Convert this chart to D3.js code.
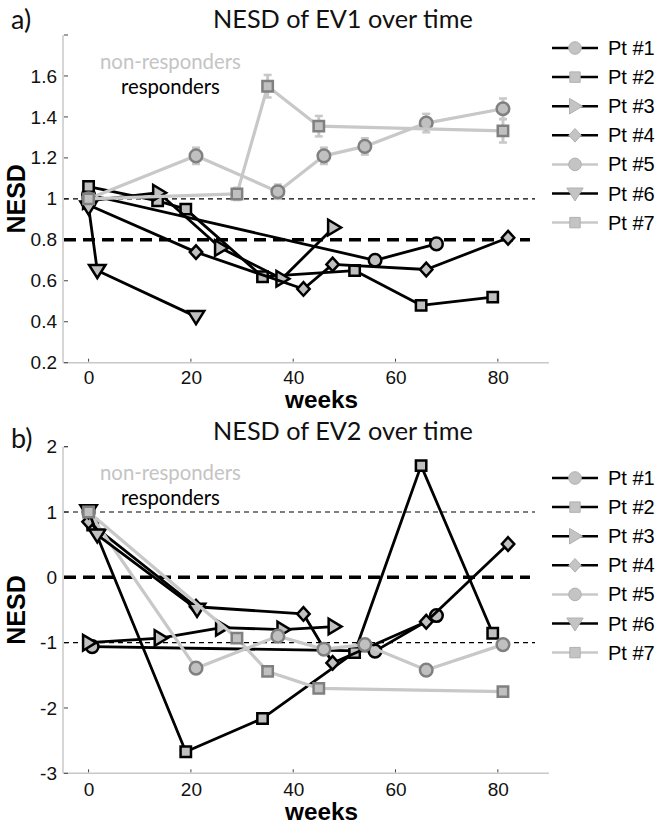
<!DOCTYPE html>
<html><head><meta charset="utf-8">
<script src="https://cdn.jsdelivr.net/npm/d3@7"></script>
<style>body{margin:0;background:#fff}svg{display:block}</style>
</head><body>
<svg id="c" width="664" height="824"></svg>
<script>
// ---------- DATA ----------
const patients = ["Pt #1","Pt #2","Pt #3","Pt #4","Pt #5","Pt #6","Pt #7"];
const responder = [true,true,true,true,false,true,false];
const markers = ["circle","square","triRight","diamond","circle","triDown","square"];
const xTicks = [0,20,40,60,80];
const yTicksA = [0.2,0.4,0.6,0.8,1,1.2,1.4,1.6];
const yTickLabelsA = ["0.2","0.4","0.6","0.8","1","1.2","1.4","1.6"];
const yTicksB = [-3,-2,-1,0,1,2];
const yTickLabelsB = ["-3","-2","-1","0","1","2"];

// EV1 (panel a)
const a_weeks = [
  [0,56,68],
  [0,13.5,19,34,52,65,79],
  [0,13.7,25.8,37.8,47.9],
  [0,21,42,47.7,66,82],
  [0,21,37,46,54,66,81],
  [0,1.7,21],
  [0,29,35,45,81]
];
const a_values = [
  [1.02,0.70,0.78],
  [1.06,0.99,0.95,0.62,0.65,0.48,0.52],
  [0.99,1.03,0.76,0.61,0.86],
  [0.97,0.74,0.56,0.68,0.655,0.81],
  [1.0,1.21,1.035,1.21,1.256,1.37,1.44],
  [0.96,0.65,0.425],
  [1.0,1.024,1.55,1.355,1.332]
];
const a_err5 = [0.02,0.04,0.035,0.04,0.04,0.045,0.05];
const a_err7 = [0.02,0.03,0.055,0.05,0.057];

// EV2 (panel b)
const b_weeks = [
  [0.7,56,68],
  [0.8,19,34,52,65,79],
  [0,14,26,38,48],
  [0,21,42,47.7,66,82],
  [0,21,37,46,54,66,81],
  [0,1.7,21.2],
  [0,29,35,45,81]
];
const b_values = [
  [-1.06,-1.13,-0.585],
  [0.8,-2.67,-2.16,-1.15,1.71,-0.856],
  [-1.0,-0.93,-0.77,-0.8,-0.754],
  [0.85,-0.45,-0.56,-1.31,-0.68,0.51],
  [1.0,-1.39,-0.9,-1.1,-1.03,-1.42,-1.03],
  [1.02,0.65,-0.49],
  [1.0,-0.93,-1.44,-1.7,-1.75]
];

// ---------- DRAW ----------
const svg = d3.select("#c");
const SANS = "'Liberation Sans', Arial, sans-serif";
const HUM = "Lato, 'Open Sans', sans-serif";

function fit(sel, w){
  const cur = sel.node().getComputedTextLength();
  const fs = parseFloat(sel.attr("font-size"));
  sel.attr("font-size", fs * w / cur);
  return sel;
}

function markerPath(type){
  switch(type){
    case "circle": return d3.arc()({innerRadius:0,outerRadius:6.3,startAngle:0,endAngle:2*Math.PI});
    case "square": return "M-5.2,-5.2H5.2V5.2H-5.2Z";
    case "diamond": return "M0,-6.8L6.2,0L0,6.8L-6.2,0Z";
    case "triRight": return "M7.5,0L-5.5,-7.8L-5.5,7.8Z";
    case "triDown": return "M0,7.5L-8.2,-5.5L8.2,-5.5Z";
  }
}

function panel(cfg){
  const x = d3.scaleLinear().domain([-5,90]).range([63,549]);
  const y = d3.scaleLinear().domain(cfg.ydom).range([cfg.bottom, cfg.top]);
  const g = svg.append("g");

  // axes lines
  g.append("line").attr("x1",63).attr("x2",63).attr("y1",cfg.top).attr("y2",cfg.bottom)
    .attr("stroke","#c8c8c8").attr("stroke-width",1.5);
  g.append("line").attr("x1",63).attr("x2",549).attr("y1",cfg.bottom).attr("y2",cfg.bottom)
    .attr("stroke","#c8c8c8").attr("stroke-width",1.5);

  // x ticks
  const xa = d3.axisBottom(x).tickValues(xTicks).tickSize(0).tickPadding(0).tickFormat(d3.format("d"));
  const xg = g.append("g").attr("transform",`translate(0,${cfg.bottom})`).call(xa);
  xg.select(".domain").remove();
  xg.selectAll("text").attr("font-family",SANS).attr("font-size",19).attr("fill","#111")
    .attr("dy",null).attr("y",cfg.tickLabelDy);
  xTicks.forEach(t=>{
    g.append("line").attr("x1",x(t)).attr("x2",x(t)).attr("y1",cfg.bottom-1).attr("y2",cfg.bottom-4)
      .attr("stroke","#444").attr("stroke-width",1);
  });

  // y ticks
  const ya = d3.axisLeft(y).tickValues(cfg.yticks).tickSize(0).tickPadding(6)
    .tickFormat((d,i)=>cfg.ylabels[i]);
  const yg = g.append("g").attr("transform","translate(63,0)").call(ya);
  yg.select(".domain").remove();
  yg.selectAll("text").attr("font-family",SANS).attr("font-size",19).attr("fill","#111");
  cfg.yticks.concat([cfg.ydom[1]]).forEach(t=>{
    g.append("line").attr("x1",64).attr("x2",68).attr("y1",y(t)).attr("y2",y(t))
      .attr("stroke","#444").attr("stroke-width",1);
  });

  // reference lines
  cfg.thin.forEach(v=>{
    g.append("line").attr("x1",64).attr("x2",535).attr("y1",y(v)).attr("y2",y(v))
      .attr("stroke","#000").attr("stroke-width",1.2).attr("stroke-dasharray","5,4");
  });
  g.append("line").attr("x1",64).attr("x2",530).attr("y1",y(cfg.thick)).attr("y2",y(cfg.thick))
    .attr("stroke","#000").attr("stroke-width",3.5).attr("stroke-dasharray","12,7");

  // series
  const line = d3.line().x(d=>x(d[0])).y(d=>y(d[1]));
  patients.forEach((p,i)=>{
    const pts = cfg.weeks[i].map((w,j)=>[w,cfg.values[i][j]]);
    const col = responder[i] ? "#000" : "#c8c8c8";
    g.append("path").attr("d",line(pts)).attr("fill","none").attr("stroke",col)
      .attr("stroke-width",responder[i]?2.8:3.2).attr("stroke-linejoin","round");
    const err = cfg.errs && cfg.errs[i];
    if(err){
      pts.forEach((d,j)=>{
        const e = err[j];
        g.append("line").attr("x1",x(d[0])).attr("x2",x(d[0])).attr("y1",y(d[1]-e)).attr("y2",y(d[1]+e))
          .attr("stroke","#c8c8c8").attr("stroke-width",3);
        [d[1]-e,d[1]+e].forEach(v=>{
          g.append("line").attr("x1",x(d[0])-4).attr("x2",x(d[0])+4).attr("y1",y(v)).attr("y2",y(v))
            .attr("stroke","#c8c8c8").attr("stroke-width",2.5);
        });
      });
    }
    g.selectAll(null).data(pts).enter().append("path")
      .attr("d",markerPath(markers[i]))
      .attr("transform",d=>`translate(${x(d[0])},${y(d[1])})`)
      .attr("fill","#c0c0c0")
      .attr("stroke",responder[i]?"#000":"#808080")
      .attr("stroke-width",2.5);
  });

  // texts
  const t1 = svg.append("text").attr("x",213).attr("y",cfg.titleY).attr("font-family",HUM)
    .attr("font-size",22).attr("fill","#111").text(cfg.title);
  fit(t1,260);
  svg.append("text").attr("x",11).attr("y",cfg.letterY).attr("font-family",HUM)
    .attr("font-size",27).attr("fill","#111").text(cfg.letter);
  const nr = svg.append("text").attr("x",100).attr("y",cfg.top+33.5).attr("font-family",HUM)
    .attr("font-size",19).attr("fill","#c4c4c4").text("non-responders");
  fit(nr,141);
  const r = svg.append("text").attr("x",121).attr("y",cfg.top+58.5).attr("font-family",HUM)
    .attr("font-size",19).attr("fill","#000").text("responders");
  fit(r,99);
  const wk = svg.append("text").attr("x",285).attr("y",cfg.weeksY).attr("font-family",SANS)
    .attr("font-weight","bold").attr("font-size",24).attr("fill","#000").text("weeks");
  fit(wk,73);
  const mid = (cfg.top+cfg.bottom)/2;
  svg.append("text").attr("transform",`translate(24.5,${mid}) rotate(-90)`).attr("text-anchor","middle")
    .attr("font-family",SANS).attr("font-weight","bold").attr("font-size",25).attr("fill","#000").text("NESD");

  // legend
  patients.forEach((p,i)=>{
    const ly = cfg.legendY + i*29.1;
    g.append("line").attr("x1",552).attr("x2",598).attr("y1",ly).attr("y2",ly)
      .attr("stroke",responder[i]?"#000":"#c8c8c8").attr("stroke-width",2.5);
    g.append("path").attr("d",markerPath(markers[i])).attr("transform",`translate(575,${ly})`)
      .attr("fill","#c4c4c4").attr("stroke","#b0b0b0").attr("stroke-width",1);
    g.append("text").attr("x",608).attr("y",ly+7).attr("font-family",SANS).attr("font-size",20)
      .attr("fill","#000").text(p);
  });
}

panel({ydom:[0.2,1.8], top:35, bottom:362.7, yticks:yTicksA, ylabels:yTickLabelsA,
  thin:[1], thick:0.8, weeks:a_weeks, values:a_values, errs:[null,null,null,null,a_err5,null,a_err7],
  title:"NESD of EV1 over time", titleY:28, letter:"a)", letterY:29, legendY:48,
  tickLabelDy:21, weeksY:407.5});
panel({ydom:[-3,2], top:446.7, bottom:773.3, yticks:yTicksB, ylabels:yTickLabelsB,
  thin:[1,-1], thick:0, weeks:b_weeks, values:b_values, errs:null,
  title:"NESD of EV2 over time", titleY:440, letter:"b)", letterY:448, legendY:478,
  tickLabelDy:23, weeksY:820});
</script>
</body></html>
